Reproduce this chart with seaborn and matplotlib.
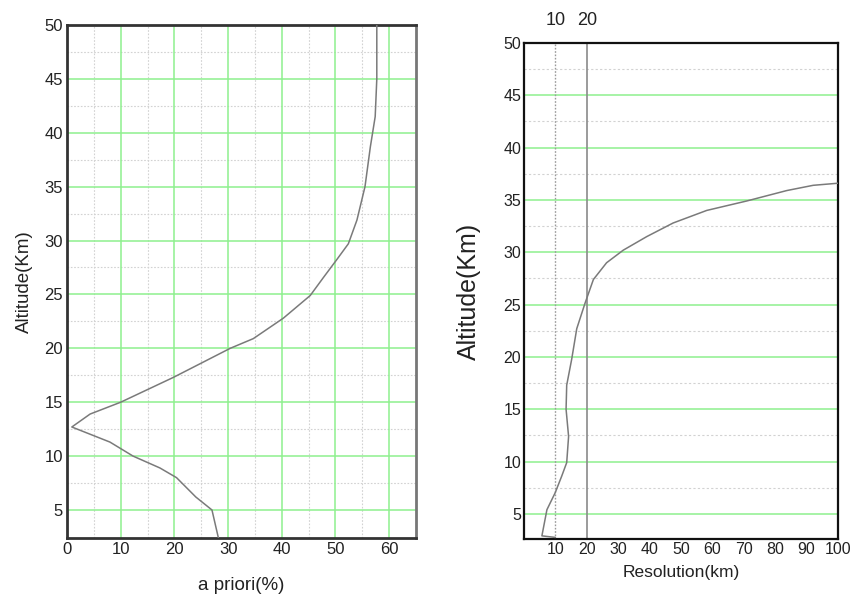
import matplotlib
matplotlib.use("Agg")
import matplotlib.pyplot as plt
import seaborn as sns
import pandas as pd
import numpy as np

# ---- data ----
apriori_alt = [2.4, 5, 6.2, 8, 8.9, 10, 11.3, 12.7, 13.9, 15, 17.3, 20, 20.9, 22.8, 24.9, 26.6, 28.2, 29.7, 31.9, 35.0, 38.7, 41.5, 45.0, 50]
apriori_val = [28.2, 27, 24, 20.4, 17.3, 12.3, 8, 0.9, 4.3, 10, 19.8, 30.4, 34.7, 40.3, 45.3, 47.8, 50.2, 52.4, 54.0, 55.5, 56.5, 57.4, 57.7, 57.7]

res_alt = [2.75, 2.9, 5.4, 7, 8.6, 9.9, 12.4, 15, 17.3, 19.8, 22.7, 25.1, 27.4, 29.0, 30.2, 31.5, 32.8, 34.0, 34.9, 35.9, 36.4, 36.6]
res_val = [10, 5.7, 7.3, 9.9, 12, 13.6, 14.2, 13.4, 13.6, 15.2, 16.8, 19.4, 22.1, 26.3, 31.6, 39.1, 47.5, 58.2, 70.9, 83.7, 92.1, 100]

left_xticks = [0, 10, 20, 30, 40, 50, 60]
right_xticks = [10, 20, 30, 40, 50, 60, 70, 80, 90, 100]
yticks = [5, 10, 15, 20, 25, 30, 35, 40, 45, 50]
top_ticks = [10, 20]

sns.set_style("white")
plt.rcParams['font.family'] = ['Liberation Sans', 'DejaVu Sans']

GREEN = '#8ef08e'
MINOR = '#d2d2d2'
CURVE = '#7a7a7a'

fig = plt.figure(figsize=(8.51, 6.01), dpi=100)
W, H = 851, 601
axL = fig.add_axes([67 / W, 1 - 538 / H, (416 - 67) / W, (538 - 25) / H])
axR = fig.add_axes([524 / W, 1 - 539 / H, (838 - 524) / W, (539 - 43) / H])

# ---- left panel ----
dfL = pd.DataFrame({"val": apriori_val, "alt": apriori_alt})
axL.set_xlim(0, 65)
axL.set_ylim(2.4, 50)
for x in np.arange(5, 65, 10):
    axL.axvline(x, color=MINOR, lw=0.8, ls=(0, (1.5, 1.5)), zorder=0)
for y in np.arange(7.5, 50, 5):
    axL.axhline(y, color=MINOR, lw=0.8, ls=(0, (1.5, 1.5)), zorder=0)
for x in left_xticks[1:]:
    axL.axvline(x, color=GREEN, lw=1.1, zorder=0.5)
for y in yticks[:-1]:
    axL.axhline(y, color=GREEN, lw=1.1, zorder=0.5)
sns.lineplot(data=dfL, x="val", y="alt", sort=False, estimator=None, ax=axL,
             color=CURVE, lw=1.1, zorder=3)
axL.set_xticks(left_xticks)
axL.set_yticks(yticks)
axL.tick_params(axis='both', length=2, pad=1, labelsize=12, colors='#222222')
axL.set_xlabel("a priori(%)", fontsize=13.5, labelpad=14, color='#222222')
axL.set_ylabel("Altitude(Km)", fontsize=13.5, labelpad=8, color='#222222')
for s in ['left', 'bottom', 'top']:
    axL.spines[s].set_color('#333333')
    axL.spines[s].set_linewidth(2)
axL.spines['right'].set_color('#777777')
axL.spines['right'].set_linewidth(2)

# ---- right panel ----
dfR = pd.DataFrame({"val": res_val, "alt": res_alt})
axR.set_xlim(0, 100)
axR.set_ylim(2.6, 50)
for y in np.arange(7.5, 50, 5):
    axR.axhline(y, color=MINOR, lw=0.8, ls=(0, (2, 2)), zorder=0)
for y in yticks[:-1]:
    axR.axhline(y, color=GREEN, lw=1.1, zorder=0.5)
axR.axvline(10, color='#9a9a9a', lw=1.0, ls=(0, (1.2, 1.2)), zorder=1)
axR.axvline(20, color='#8a8a8a', lw=1.2, zorder=1)
sns.lineplot(data=dfR, x="val", y="alt", sort=False, estimator=None, ax=axR,
             color=CURVE, lw=1.1, zorder=3)
axR.set_xticks(right_xticks)
axR.set_yticks(yticks)
narrow = ['DejaVu Sans Condensed', 'Liberation Sans Narrow', 'Liberation Sans']
axR.tick_params(axis='both', length=0, pad=2, labelsize=11.5, colors='#222222')
for lab in axR.get_xticklabels() + axR.get_yticklabels():
    lab.set_family(narrow)
    lab.set_fontstretch('condensed')
axR.set_xlabel("Resolution(km)", fontsize=12.5, labelpad=6, color='#222222', family=narrow)
axR.set_ylabel("Altitude(Km)", fontsize=18, labelpad=16, color='#222222')
for s in axR.spines.values():
    s.set_color('#111111')
    s.set_linewidth(1.6)

sec = axR.secondary_xaxis('top')
sec.set_xticks(top_ticks)
sec.tick_params(length=0, pad=10, labelsize=13, colors='#222222')
sec.spines['top'].set_visible(False)

fig.savefig("out.png", dpi=100)
